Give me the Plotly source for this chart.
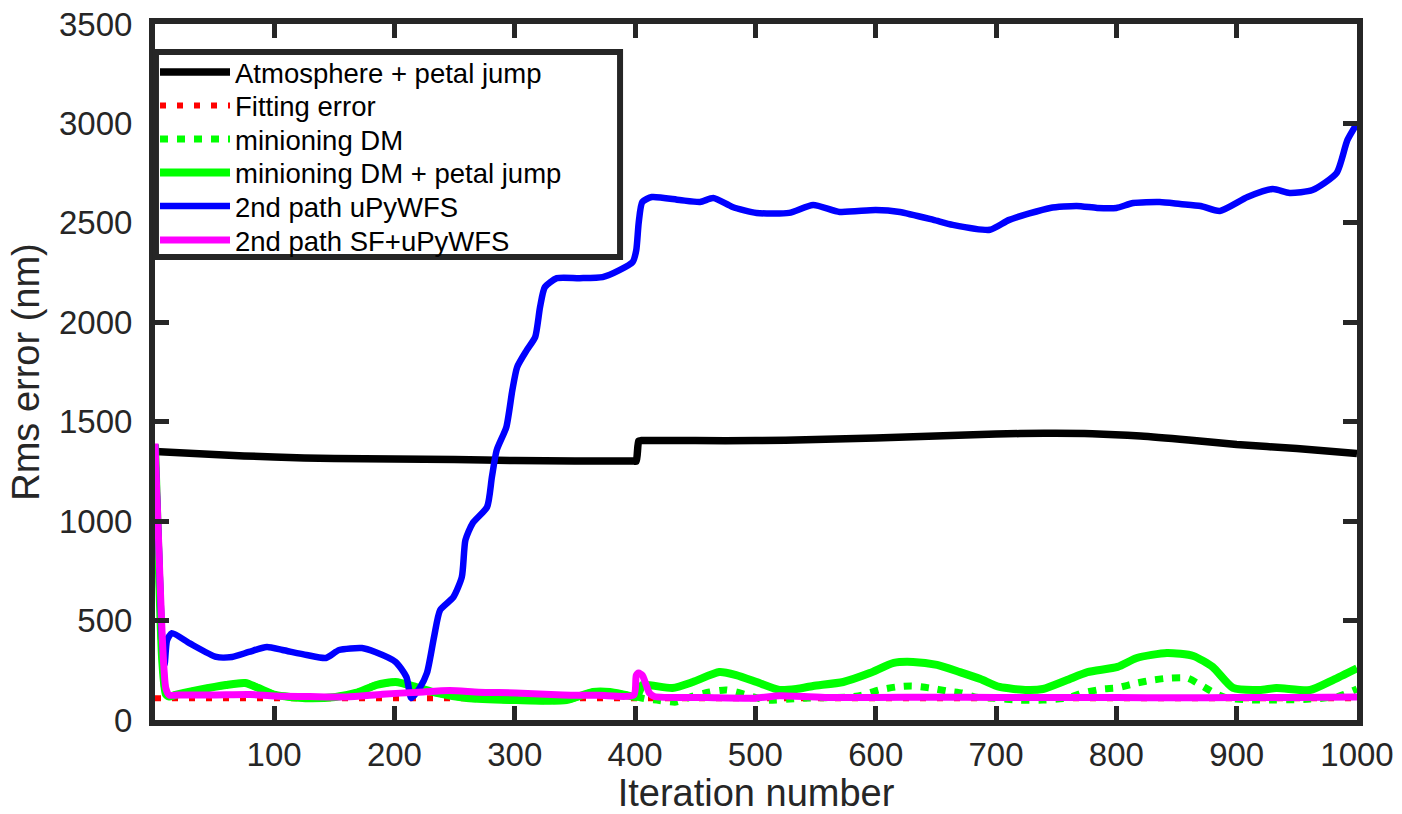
import plotly.graph_objects as go

# ---------------- data ----------------
x_ticks = [100, 200, 300, 400, 500, 600, 700, 800, 900, 1000]
y_ticks = [0, 500, 1000, 1500, 2000, 2500, 3000, 3500]

atm_x = [1, 50, 100, 150, 200, 250, 300, 350, 399, 401, 403, 405, 450, 500, 550, 600, 650, 700, 740, 780, 820, 860, 900, 950, 1000]
atm_y = [1350, 1335, 1322, 1315, 1312, 1310, 1305, 1302, 1302, 1302, 1403, 1405, 1405, 1405, 1410, 1418, 1428, 1438, 1442, 1440, 1428, 1408, 1385, 1365, 1340]

fit_x = [1, 1000]
fit_y = [110, 110]

mdm_x = [1, 4, 7, 10, 13, 18, 37, 60, 76, 87, 101, 126, 151, 168, 185, 201, 218, 235, 260, 301,
         343, 365, 379, 392, 401, 410, 418, 434, 448, 462, 476, 493, 509, 540, 578, 589, 603, 617,
         630, 645, 659, 672, 682, 697, 720, 739, 759, 772, 789, 800, 817, 830, 844, 859, 870, 880,
         892, 919, 961, 985, 1000]
mdm_y = [1385, 800, 300, 130, 118, 126, 151, 176, 186, 161, 126, 110, 116, 136, 176, 191, 166, 136, 110, 100,
         100, 141, 141, 126, 116, 105, 100, 90, 120, 141, 151, 126, 100, 110, 116, 126, 151, 166,
         171, 161, 146, 136, 116, 110, 100, 100, 110, 136, 156, 161, 186, 201, 211, 211, 176, 141,
         110, 100, 105, 120, 156]

mdmp_x = [1, 4, 7, 10, 13, 18, 37, 60, 76, 87, 101, 126, 151, 168, 185, 201, 218, 235, 260, 301,
          343, 365, 379, 392, 401, 404, 406, 431, 448, 470, 484, 501, 520, 534, 548, 573, 595, 615,
          631, 651, 670, 687, 703, 726, 739, 759, 776, 801, 817, 842, 864, 880, 897, 919, 933, 961,
          980, 1000]
mdmp_y = [1385, 800, 300, 130, 118, 126, 151, 176, 186, 161, 126, 110, 116, 136, 176, 191, 166, 136, 110, 100,
          100, 141, 141, 126, 116, 150, 176, 161, 191, 241, 226, 191, 151, 156, 171, 191, 236, 287,
          292, 277, 241, 206, 166, 151, 156, 201, 241, 267, 312, 337, 322, 267, 161, 151, 161, 151,
          201, 260]

upy_x = [1, 4, 7, 9, 11, 15, 30, 52, 65, 79, 94, 107, 127, 143, 154, 173, 184, 201, 210, 214,
         221, 227, 233, 238, 249, 256, 259, 265, 277, 281, 285, 293, 298, 302, 310, 317, 321, 325,
         335, 354, 373, 387, 398, 401, 403, 406, 414, 437, 454, 465, 481, 501, 528, 548, 570, 600,
         620, 648, 664, 695, 711, 745, 767, 784, 800, 814, 836, 853, 870, 886, 909, 930, 944, 963,
         983, 992, 1000]
upy_y = [1385, 900, 400, 280, 400, 437, 385, 317, 317, 342, 367, 352, 327, 312, 352, 362, 342, 292, 216, 110,
         161, 236, 420, 553, 618, 719, 905, 990, 1071, 1222, 1357, 1473, 1659, 1775, 1860, 1926, 2076, 2177,
         2222, 2222, 2227, 2262, 2303, 2363, 2500, 2605, 2630, 2615, 2605, 2625, 2580, 2550, 2550, 2590, 2555, 2565,
         2555, 2515, 2490, 2465, 2515, 2575, 2585, 2575, 2575, 2600, 2605, 2595, 2585, 2560, 2630, 2670, 2650, 2665,
         2750, 2916, 3000]

sf_x = [1, 4, 7, 10, 13, 20, 50, 80, 100, 130, 160, 190, 220, 246, 270, 301, 340, 370, 399, 401,
        403, 406, 409, 412, 416, 460, 500, 520, 560, 600, 650, 700, 750, 800, 850, 900, 950, 1000]
sf_y = [1390, 900, 420, 160, 125, 126, 126, 128, 121, 118, 116, 130, 140, 148, 140, 136, 126, 124, 126, 225,
        236, 225, 180, 135, 118, 113, 110, 122, 113, 113, 115, 113, 113, 113, 112, 113, 113, 116]

series_names = ["Atmosphere + petal jump", "Fitting error", "minioning DM",
                "minioning DM + petal jump", "2nd path uPyWFS", "2nd path SF+uPyWFS"]

# ---------------- figure ----------------
AX = "#262626"
FONT = "Liberation Sans, Arial, Helvetica, sans-serif"
SM = 0.6

fig = go.Figure()
fig.add_trace(go.Scatter(x=atm_x, y=atm_y, mode="lines", name=series_names[0], legend="legend",
                         line=dict(color="black", width=7.5, shape="spline", smoothing=SM)))
fig.add_trace(go.Scatter(x=fit_x, y=fit_y, mode="lines", name=series_names[1], legend="legend2",
                         line=dict(color="#ff0000", width=6, dash="6px,11px")))
fig.add_trace(go.Scatter(x=mdm_x, y=mdm_y, mode="lines", name=series_names[2], legend="legend3",
                         line=dict(color="#00ff00", width=7, dash="8px,9px", shape="spline", smoothing=SM)))
fig.add_trace(go.Scatter(x=mdmp_x, y=mdmp_y, mode="lines", name=series_names[3], legend="legend4",
                         line=dict(color="#00ff00", width=8, shape="spline", smoothing=SM)))
fig.add_trace(go.Scatter(x=upy_x, y=upy_y, mode="lines", name=series_names[4], legend="legend5",
                         line=dict(color="#0000ff", width=6.5, shape="spline", smoothing=SM)))
fig.add_trace(go.Scatter(x=sf_x, y=sf_y, mode="lines", name=series_names[5], legend="legend6",
                         line=dict(color="#ff00ff", width=7, shape="spline", smoothing=SM)))

axis_common = dict(
    showline=True, linewidth=6, linecolor=AX, mirror="allticks",
    ticks="inside", ticklen=14, tickwidth=5, tickcolor=AX,
    showgrid=False, zeroline=False, automargin=True,
    tickfont=dict(size=33, color=AX, family=FONT),
)

fig.update_xaxes(range=[1, 1000], tickvals=x_ticks, ticktext=[str(v) for v in x_ticks],
                 title=dict(text="Iteration number", font=dict(size=38, color=AX, family=FONT), standoff=14),
                 **axis_common)
fig.update_yaxes(range=[0, 3500], tickvals=y_ticks, ticktext=[str(v) for v in y_ticks],
                 ticklabelstandoff=10,
                 title=dict(text="Rms error (nm)", font=dict(size=38, color=AX, family=FONT), standoff=10),
                 **axis_common)

# legend frame (drawn as a shape so its size matches the reference)
fig.add_shape(type="rect", xref="paper", yref="paper",
              x0=0.0008, x1=0.3869, y0=0.6652, y1=0.9598,
              line=dict(color=AX, width=6), fillcolor="white", layer="above")

# one legend per row so the row pitch matches the reference
row_px = [72, 105.5, 139, 172.5, 206, 240]
legend_kw = dict(x=0.0, xanchor="left", yanchor="middle", bgcolor="rgba(0,0,0,0)", borderwidth=0,
                 font=dict(size=27.5, color="black", family=FONT), itemwidth=70)
legends = {}
for i, py in enumerate(row_px):
    key = "legend" if i == 0 else f"legend{i + 1}"
    legends[key] = dict(y=(720 - py) / 696, **legend_kw)

fig.update_layout(
    width=1402, height=814,
    margin=dict(l=155, r=45, t=24, b=94, autoexpand=False),
    paper_bgcolor="white", plot_bgcolor="white",
    font=dict(family=FONT, color=AX),
    showlegend=True,
    **legends,
)

fig.write_html("out.html")
